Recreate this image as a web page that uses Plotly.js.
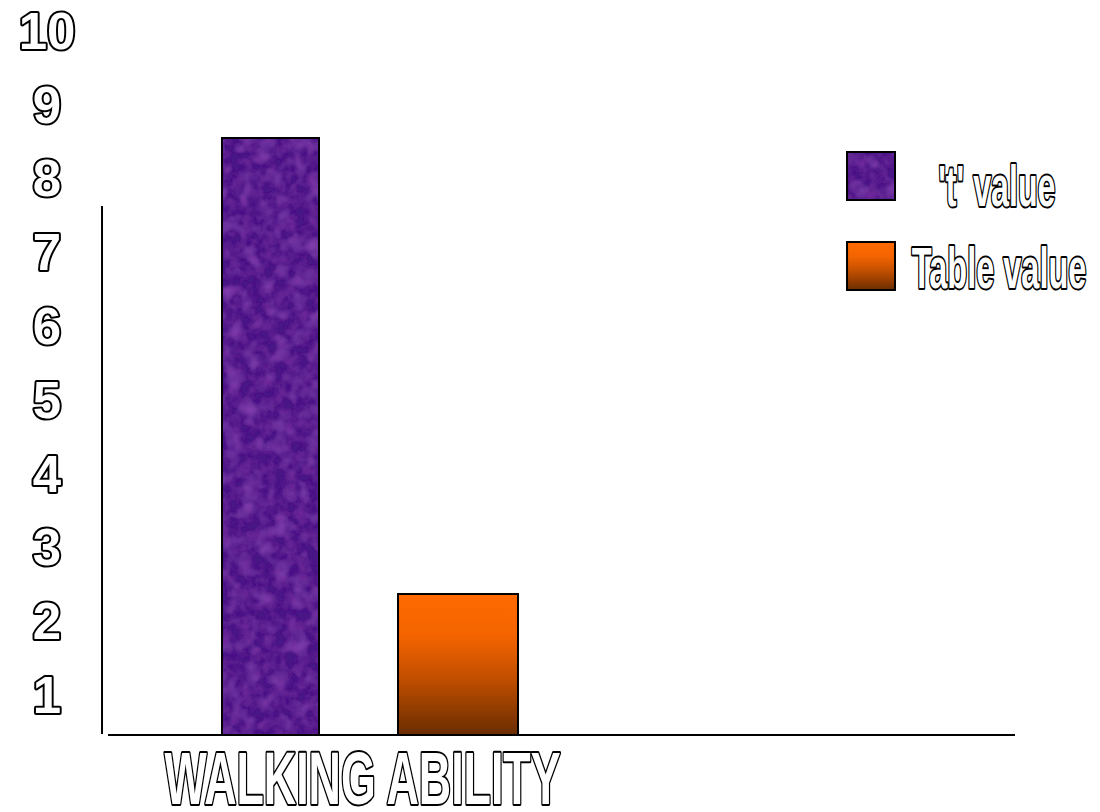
<!DOCTYPE html>
<html><head><meta charset="utf-8">
<script src="https://cdn.plot.ly/plotly-3.0.1.min.js"></script>
<style>
html,body{margin:0;padding:0;background:#fff;}
.ytick text{stroke:#000;stroke-width:4px;paint-order:stroke;text-anchor:middle;stroke-linejoin:round;}
.annotation-text{stroke:#000;stroke-width:4px;paint-order:stroke;stroke-linejoin:round;transform-box:fill-box;transform-origin:center;}
.annotation[data-index="0"] .annotation-text{transform:scaleX(0.605);}
.annotation[data-index="1"] .annotation-text{transform:scaleX(0.565);}
.annotation[data-index="2"] .annotation-text{transform:scaleX(0.57);}
</style></head>
<body><div id="chart" style="width:1100px;height:812px;"></div>
<script>
const categories = ['WALKING ABILITY'];
const seriesNames = ["'t' value", 'Table value'];
const tValues = [8.55];
const tableValues = [2.37];
const yTickVals = [1, 2, 3, 4, 5, 6, 7, 8, 9, 10];
const yTickText = ['1', '2', '3', '4', '5', '6', '7', '8', '9', '10'];

const data = [
  {
    type: 'bar', name: seriesNames[0], x: categories, y: tValues,
    width: 0.2425, offset: -0.35,
    marker: {color: '#4a1386', line: {color: '#000', width: 2}},
    hoverinfo: 'skip'
  },
  {
    type: 'bar', name: seriesNames[1], x: categories, y: tableValues,
    width: 0.3, offset: 0.09,
    marker: {color: '#ff6a00', line: {color: '#000', width: 2}},
    hoverinfo: 'skip'
  }
];

const condensed = {family: 'Liberation Sans, Arial, sans-serif', color: '#fff', weight: 700};

const layout = {
  width: 1100, height: 812,
  margin: {l: 108, r: 85, t: 20, b: 78},
  paper_bgcolor: '#fff', plot_bgcolor: '#fff',
  showlegend: false,
  barmode: 'overlay',
  xaxis: {
    type: 'category', range: [-0.635, 1.6325],
    showline: true, linecolor: '#000', linewidth: 2,
    showticklabels: false, ticks: '', showgrid: false, zeroline: false
  },
  yaxis: {
    range: [0.474, 10.149],
    tickvals: yTickVals, ticktext: yTickText,
    showline: false, showgrid: false, zeroline: false, ticks: '',
    ticklabelstandoff: 60,
    tickfont: {family: 'Liberation Sans, Arial, sans-serif', size: 51, color: '#fff', weight: 700}
  },
  shapes: [
    {type: 'line', xref: 'paper', yref: 'paper', x0: -0.0066, x1: -0.0066, y0: 0, y1: 0.7395,
     line: {color: '#000', width: 2}},
    {type: 'rect', xref: 'paper', yref: 'paper', x0: 0.8148, x1: 0.8677, y0: 0.7479, y1: 0.8151,
     fillcolor: '#4a1386', line: {color: '#000', width: 2}},
    {type: 'rect', xref: 'paper', yref: 'paper', x0: 0.8148, x1: 0.8677, y0: 0.6218, y1: 0.6891,
     fillcolor: '#ff6a00', line: {color: '#000', width: 2}}
  ],
  annotations: [
    {text: categories[0], xref: 'x', yref: 'paper', x: categories[0], y: -0.063,
     xanchor: 'center', yanchor: 'middle', showarrow: false,
     font: Object.assign({size: 74}, condensed)},
    {text: seriesNames[0], xref: 'paper', yref: 'paper', x: 0.980, y: 0.7675,
     xanchor: 'center', yanchor: 'middle', showarrow: false,
     font: Object.assign({size: 57}, condensed)},
    {text: seriesNames[1], xref: 'paper', yref: 'paper', x: 0.982, y: 0.6527,
     xanchor: 'center', yanchor: 'middle', showarrow: false,
     font: Object.assign({size: 57}, condensed)}
  ]
};

Plotly.newPlot('chart', data, layout, {staticPlot: true}).then(function (gd) {
  const NS = 'http://www.w3.org/2000/svg';
  const svg = gd.querySelector('svg.main-svg');
  let defs = svg.querySelector('defs');
  if (!defs) { defs = document.createElementNS(NS, 'defs'); svg.insertBefore(defs, svg.firstChild); }
  const stops = [[0, '#ff6a00'], [0.3, '#f36400'], [0.6, '#c24f00'], [1, '#6b2d00']];
  function makeGrad(id, userSpace, y1, y2) {
    const g = document.createElementNS(NS, 'linearGradient');
    g.setAttribute('id', id);
    g.setAttribute('x1', 0); g.setAttribute('x2', 0);
    g.setAttribute('y1', y1); g.setAttribute('y2', y2);
    if (userSpace) g.setAttribute('gradientUnits', 'userSpaceOnUse');
    stops.forEach(function (s) {
      const st = document.createElementNS(NS, 'stop');
      st.setAttribute('offset', s[0]);
      st.setAttribute('stop-color', s[1]);
      g.appendChild(st);
    });
    defs.appendChild(g);
  }
  // subtle mottled texture for the purple fill
  const f = document.createElementNS(NS, 'filter');
  f.setAttribute('id', 'mottle');
  f.setAttribute('x', '-0.2'); f.setAttribute('y', '-0.05');
  f.setAttribute('width', '1.4'); f.setAttribute('height', '1.1');
  f.innerHTML =
    '<feTurbulence type="fractalNoise" baseFrequency="0.09" numOctaves="3" seed="7" result="n1"/>' +
    '<feColorMatrix in="n1" type="matrix" values="0 0 0 0 0.20  0 0 0 0 0.03  0 0 0 0 0.36  0 0 0 1.2 -0.42" result="dark"/>' +
    '<feTurbulence type="fractalNoise" baseFrequency="0.06" numOctaves="2" seed="19" result="n2"/>' +
    '<feColorMatrix in="n2" type="matrix" values="0 0 0 0 0.36  0 0 0 0 0.09  0 0 0 0 0.60  0 0 0 1.0 -0.48" result="light"/>' +
    '<feMerge result="tex"><feMergeNode in="dark"/><feMergeNode in="light"/></feMerge>' +
    '<feComposite in="tex" in2="SourceGraphic" operator="in" result="texin"/>' +
    '<feMerge><feMergeNode in="SourceGraphic"/><feMergeNode in="texin"/></feMerge>';
  defs.appendChild(f);

  function textured(path) {
    if (!path) return;
    path.setAttribute('filter', 'url(#mottle)');
    const outline = path.cloneNode(false);
    outline.removeAttribute('filter');
    outline.style.fill = 'none';
    path.parentNode.insertBefore(outline, path.nextSibling);
  }

  const traces = gd.querySelectorAll('.barlayer .trace');
  const purplePath = traces[0].querySelector('path');
  const orangePath = traces[1].querySelector('path');
  const bb = orangePath.getBBox();
  const plotH = gd._fullLayout._size.h;
  makeGrad('ogBar', true, bb.y, Math.min(bb.y + bb.height, plotH));
  makeGrad('ogBox', false, 0, 1);
  orangePath.style.fill = 'url(#ogBar)';
  textured(purplePath);
  const sq1 = gd.querySelector('.shapelayer path[data-index="1"]');
  const sq2 = gd.querySelector('.shapelayer path[data-index="2"]');
  textured(sq1);
  if (sq2) sq2.style.fill = 'url(#ogBox)';
});
</script>
</body></html>
